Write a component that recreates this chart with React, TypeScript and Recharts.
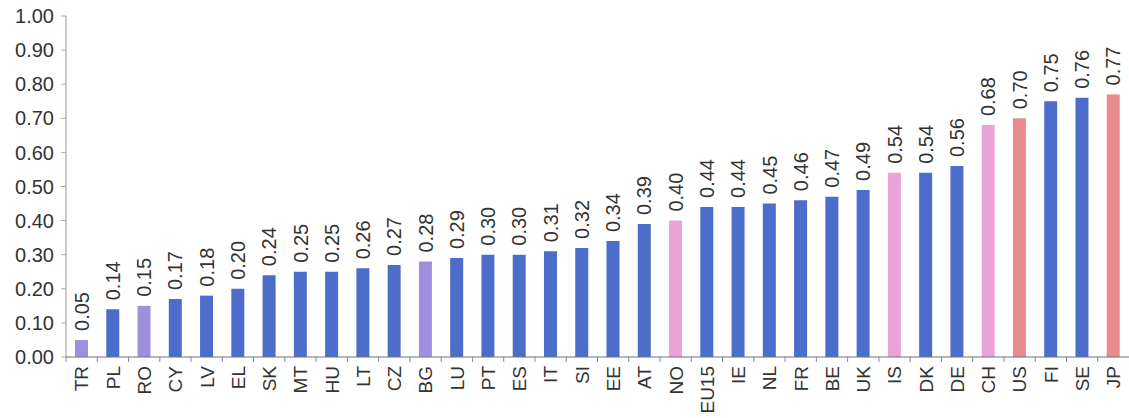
import React from 'react';
import { BarChart, Bar, XAxis, YAxis, Cell, LabelList } from 'recharts';

const countries = ['TR','PL','RO','CY','LV','EL','SK','MT','HU','LT','CZ','BG','LU','PT','ES','IT','SI','EE','AT','NO','EU15','IE','NL','FR','BE','UK','IS','DK','DE','CH','US','FI','SE','JP'];
const values = [0.05,0.14,0.15,0.17,0.18,0.20,0.24,0.25,0.25,0.26,0.27,0.28,0.29,0.30,0.30,0.31,0.32,0.34,0.39,0.40,0.44,0.44,0.45,0.46,0.47,0.49,0.54,0.54,0.56,0.68,0.70,0.75,0.76,0.77];
const groups = ['cand','eu','cand','eu','eu','eu','eu','eu','eu','eu','eu','cand','eu','eu','eu','eu','eu','eu','eu','efta','eu','eu','eu','eu','eu','eu','efta','eu','eu','efta','other','eu','eu','other'];
const yTicks = [0, 0.1, 0.2, 0.3, 0.4, 0.5, 0.6, 0.7, 0.8, 0.9, 1.0];

const data = countries.map((c, i) => ({ name: c, value: values[i], group: groups[i] }));

const colors: Record<string, string> = {
  eu: '#4d6dcb',
  cand: '#a08fdc',
  efta: '#eaa3d9',
  other: '#e98a8d',
};

const FONT = 'Liberation Sans, Arial, sans-serif';
const W = 1129;
const H = 418;
const LEFT = 66;
const RIGHT = 0;
const AXIS_Y = 357;
const BAND = (W - LEFT - RIGHT) / countries.length;

const XTick = (props: any) => {
  const { x, payload } = props;
  return (
    <g transform={`translate(${x},${AXIS_Y})`}>
      <line x1={-BAND / 2} y1={0} x2={-BAND / 2} y2={5} stroke="#888" strokeWidth={1} />
      <text
        transform="rotate(-90)"
        x={-9}
        y={0}
        dy="0.36em"
        textAnchor="end"
        fontSize={19}
        fill="#333"
        fontFamily={FONT}
      >
        {payload.value}
      </text>
    </g>
  );
};

const ValueLabel = (props: any) => {
  const { x, y, width, value } = props;
  const cx = x + width / 2;
  const ty = y - 9;
  return (
    <text
      transform={`rotate(-90, ${cx}, ${ty})`}
      x={cx}
      y={ty}
      dy="0.36em"
      textAnchor="start"
      fontSize={20}
      fill="#333"
      fontFamily={FONT}
    >
      {Number(value).toFixed(2)}
    </text>
  );
};

export default function App() {
  return (
    <div style={{ position: 'absolute', left: 0, top: 0, width: W, height: H, background: '#fff' }}>
      <BarChart
        width={W}
        height={H}
        data={data}
        margin={{ top: 16, right: RIGHT, bottom: 0, left: 0 }}
        barCategoryGap={0}
      >
        <YAxis
          domain={[0, 1]}
          ticks={yTicks}
          width={LEFT}
          tickFormatter={(v: number) => v.toFixed(2)}
          tick={{ fontSize: 20, fill: '#333', fontFamily: FONT }}
          axisLine={{ stroke: '#999' }}
          tickLine={{ stroke: '#aaa' }}
          tickSize={5}
          tickMargin={7}
          interval={0}
        />
        <XAxis
          dataKey="name"
          height={H - AXIS_Y}
          interval={0}
          tick={<XTick />}
          tickLine={false}
          axisLine={{ stroke: '#66708a' }}
        />
        <Bar dataKey="value" barSize={13} isAnimationActive={false}>
          {data.map((d, i) => (
            <Cell key={i} fill={colors[d.group]} />
          ))}
          <LabelList dataKey="value" content={<ValueLabel />} />
        </Bar>
      </BarChart>
    </div>
  );
}
